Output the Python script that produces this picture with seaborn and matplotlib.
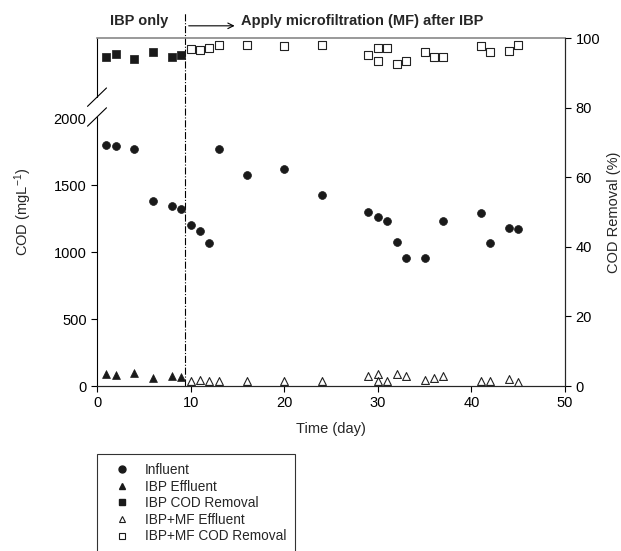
import matplotlib
matplotlib.use("Agg")
import matplotlib.pyplot as plt
import matplotlib.transforms as mtransforms
from matplotlib.lines import Line2D
import seaborn as sns

# Influent COD (mg/L), left axis
influent_day = [1, 2, 4, 6, 8, 9, 10, 11, 12, 13, 16, 20, 24,
                29, 30, 31, 32, 33, 35, 37, 41, 42, 44, 45]
influent_cod = [1800, 1795, 1770, 1385, 1345, 1320, 1205, 1155, 1065, 1770, 1580, 1620, 1430,
                1300, 1265, 1230, 1075, 960, 960, 1230, 1290, 1070, 1180, 1170]

# IBP only phase
ibp_day = [1, 2, 4, 6, 8, 9]
ibp_effluent = [90, 82, 95, 57, 77, 69]
ibp_removal = [94.6, 95.4, 94.1, 96.0, 94.6, 95.0]

# IBP + MF phase
mf_day = [10, 11, 12, 13, 16, 20, 24, 29, 30, 30, 31, 32, 33, 35, 36, 37, 41, 42, 44, 45]
mf_effluent = [39, 42, 37, 39, 39, 39, 37, 75, 90, 39, 37, 90, 75, 45, 57, 75, 35, 35, 50, 28]
mf_removal = [96.8, 96.6, 97.1, 97.9, 97.9, 97.7, 98.0, 95.0, 97.0, 93.4, 97.2, 92.4, 93.4,
              95.9, 94.6, 94.6, 97.6, 95.9, 96.4, 97.9]

switch_day = 9.4

sns.set_style("ticks")
plt.rcParams["font.family"] = ["Liberation Sans", "DejaVu Sans"]
plt.rcParams["mathtext.default"] = "regular"

dark = "#1a1a1a"
fig = plt.figure(figsize=(6.21, 5.51), dpi=100)
ax = fig.add_axes([97 / 621, 165 / 551, 468 / 621, 348 / 551])
ax2 = ax.twinx()

sns.scatterplot(x=influent_day, y=influent_cod, marker="o", s=32, color=dark,
                edgecolor=dark, linewidth=0.5, ax=ax, zorder=3)
sns.scatterplot(x=ibp_day, y=ibp_effluent, marker="^", s=32, color=dark,
                edgecolor=dark, linewidth=0.5, ax=ax, zorder=3)
sns.scatterplot(x=mf_day, y=mf_effluent, marker="^", s=32, color="white",
                edgecolor="#222222", linewidth=0.8, ax=ax, zorder=3)
sns.scatterplot(x=ibp_day, y=ibp_removal, marker="s", s=32, color=dark,
                edgecolor=dark, linewidth=0.5, ax=ax2, zorder=3)
sns.scatterplot(x=mf_day, y=mf_removal, marker="s", s=32, color="white",
                edgecolor="#222222", linewidth=0.8, ax=ax2, zorder=3)

ax.set_xlim(0, 50)
ax.set_ylim(0, 2600)
ax2.set_ylim(0, 100)
ax.set_xticks(range(0, 51, 10))
ax.set_yticks([0, 500, 1000, 1500, 2000])
ax2.set_yticks(range(0, 101, 20))
for a in (ax, ax2):
    a.tick_params(direction="out", length=4, width=0.8, labelsize=10.5, colors="black")
ax.yaxis.get_major_ticks()[-1].tick1line.set_visible(False)

ax.set_xlabel("Time (day)", fontsize=10.5, labelpad=8)
ax.set_ylabel("COD (mgL$^{-1}$)", fontsize=10.5, labelpad=14)
ax2.set_ylabel("COD Removal (%)", fontsize=10.5, labelpad=5)

# spines: grey top, broken left axis
for a in (ax, ax2):
    a.spines["top"].set_color("#888888")
    a.spines["top"].set_linewidth(1.2)
    a.spines["bottom"].set_linewidth(0.8)
    a.spines["right"].set_linewidth(0.8)
    a.spines["left"].set_visible(False)
ax2.spines["top"].set_visible(False)
lo, hi = 0.773, 0.830
ax.plot([0, 0], [0, lo], transform=ax.transAxes, color="black", lw=0.8, clip_on=False)
ax.plot([0, 0], [hi, 1], transform=ax.transAxes, color="black", lw=0.8, clip_on=False)
dx, dy = 9.5 / 468, 9.2 / 348
for yc in (lo, hi):
    ax.plot([-dx, dx], [yc - dy, yc + dy], transform=ax.transAxes, color="black",
            lw=0.8, clip_on=False)

# phase divider and annotations
trans = mtransforms.blended_transform_factory(ax.transData, ax.transAxes)
ax.plot([switch_day, switch_day], [0, 1.075], transform=trans, color="black",
        lw=0.8, ls="-.", clip_on=False, zorder=1)
ax.text(1.4, 1.05, "IBP only", transform=trans, fontsize=10.5, fontweight="bold",
        va="center", ha="left")
ax.annotate("", xy=(15.0, 1.035), xytext=(switch_day + 0.1, 1.035),
            xycoords=trans, textcoords=trans,
            arrowprops=dict(arrowstyle="->", color="black", lw=0.8))
ax.text(15.4, 1.05, "Apply microfiltration (MF) after IBP", transform=trans,
        fontsize=10.5, fontweight="bold", va="center", ha="left")

handles = [
    Line2D([], [], ls="none", marker="o", ms=5, color=dark),
    Line2D([], [], ls="none", marker="^", ms=5, color=dark),
    Line2D([], [], ls="none", marker="s", ms=5, color=dark),
    Line2D([], [], ls="none", marker="^", ms=5, mfc="white", mec=dark, mew=0.8),
    Line2D([], [], ls="none", marker="s", ms=5, mfc="white", mec=dark, mew=0.8),
]
labels = ["Influent", "IBP Effluent", "IBP COD Removal", "IBP+MF Effluent", "IBP+MF COD Removal"]
leg = fig.legend(handles, labels, loc="upper left", bbox_to_anchor=(97 / 621, 1 - 454 / 551),
                 frameon=True, fancybox=False, edgecolor="black", fontsize=9.8,
                 handlelength=2.35, handletextpad=0.5, borderpad=0.66, labelspacing=0.19,
                 borderaxespad=0)
leg.get_frame().set_linewidth(0.8)

fig.savefig("out.png", dpi=100)
